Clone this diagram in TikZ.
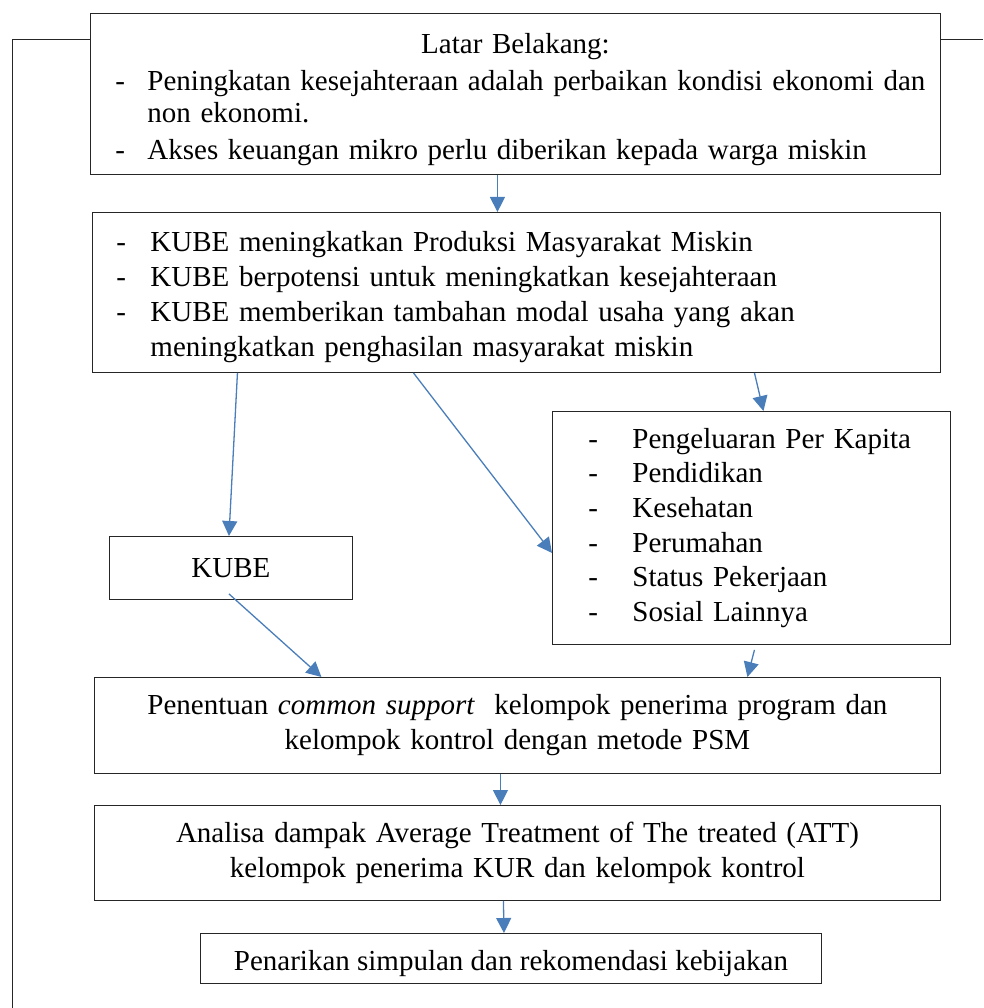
\documentclass[tikz,border=0pt]{standalone}
\usepackage{fontspec}
\setmainfont{Liberation Serif}
\usetikzlibrary{arrows.meta}
\definecolor{carrow}{RGB}{74,126,187}
\newcommand{\dashitem}[2]{\hangindent=#1\hangafter=1\noindent\makebox[#1][l]{-}#2\par}
\tikzset{kbox/.style={draw=black!85,line width=0.9pt,inner sep=0pt,anchor=north west,font=\fontsize{29}{35}\selectfont},
  arr/.style={draw=carrow,line width=1.3pt,-{Triangle[length=15pt,width=15pt]}},
  frame/.style={draw=black!85,line width=0.9pt}}

\begin{document}
\begin{tikzpicture}[x=1pt,y=-1pt]
    \useasboundingbox (0,0) rectangle (983,1008);
    \node[kbox,minimum width=850,minimum height=161,text width=850,text height=32pt] (bg) at (90,13)
      {\fontsize{29}{32}\selectfont\parskip=5pt
       {\centering Latar Belakang:\par}
       \leftskip=25pt\rightskip=0pt plus 1fil
       \dashitem{32pt}{Peningkatan kesejahteraan adalah perbaikan kondisi ekonomi dan non ekonomi.}
       \dashitem{32pt}{Akses keuangan mikro perlu diberikan kepada warga miskin}};
    \node[kbox,minimum width=848,minimum height=160,text width=848,text height=30pt] (kb) at (92,212)
      {\leftskip=24pt\rightskip=0pt plus 1fil
       \dashitem{34pt}{KUBE meningkatkan Produksi Masyarakat Miskin}
       \dashitem{34pt}{KUBE berpotensi untuk meningkatkan kesejahteraan}
       \dashitem{34pt}{KUBE memberikan tambahan modal usaha yang akan\newline meningkatkan penghasilan masyarakat miskin}};
    \node[kbox,minimum width=243,minimum height=63] (kube) at (109,536) {KUBE};
    \node[kbox,minimum width=398,minimum height=233,text width=398] (ind) at (552,411)
      {\fontsize{29}{34.7}\selectfont\leftskip=36pt\rightskip=0pt plus 1fil
       \dashitem{44pt}{Pengeluaran Per Kapita}
       \dashitem{44pt}{Pendidikan}
       \dashitem{44pt}{Kesehatan}
       \dashitem{44pt}{Perumahan}
       \dashitem{44pt}{Status Pekerjaan}
       \dashitem{44pt}{Sosial Lainnya}};
    \node[kbox,minimum width=846,minimum height=96,text width=846,align=center] (psm) at (94,677)
      {Penentuan \textit{common support}\ \ kelompok penerima program dan\\ kelompok kontrol dengan metode PSM};
    \node[kbox,minimum width=846,minimum height=95,text width=846,align=center] (att) at (94,805)
      {Analisa dampak Average Treatment of The treated (ATT)\\ kelompok penerima KUR dan kelompok kontrol};
    \node[kbox,minimum width=621,minimum height=50,text height=31pt] (fin) at (200,933)
      {Penarikan simpulan dan rekomendasi kebijakan};
    % outer frame
    \draw[frame] (12,1008) -- (12,39) -- (bg.west |- 0,39);
    \draw[frame] (bg.east |- 0,39) -- (983,39);
    \draw[arr] ([xshift=-18]bg.south) -- ([xshift=-19]kb.north);
    \draw[arr] ([xshift=-279]kb.south) -- ([xshift=-2]kube.north);
    \draw[arr] ([xshift=-103]kb.south) -- ([yshift=-25]ind.west);
    \draw[arr] ([xshift=238]kb.south) -- ([xshift=12]ind.north);
    \draw[arr] ([xshift=-2,yshift=6]kube.south) -- ([xshift=-196]psm.north);
    \draw[arr] ([xshift=3,yshift=-5]ind.south) -- ([xshift=230]psm.north);
    \draw[arr] ([xshift=-17]psm.south) -- ([xshift=-17]att.north);
    \draw[arr] ([xshift=-14]att.south) -- ([xshift=-7]fin.north);
\end{tikzpicture}
\end{document}
